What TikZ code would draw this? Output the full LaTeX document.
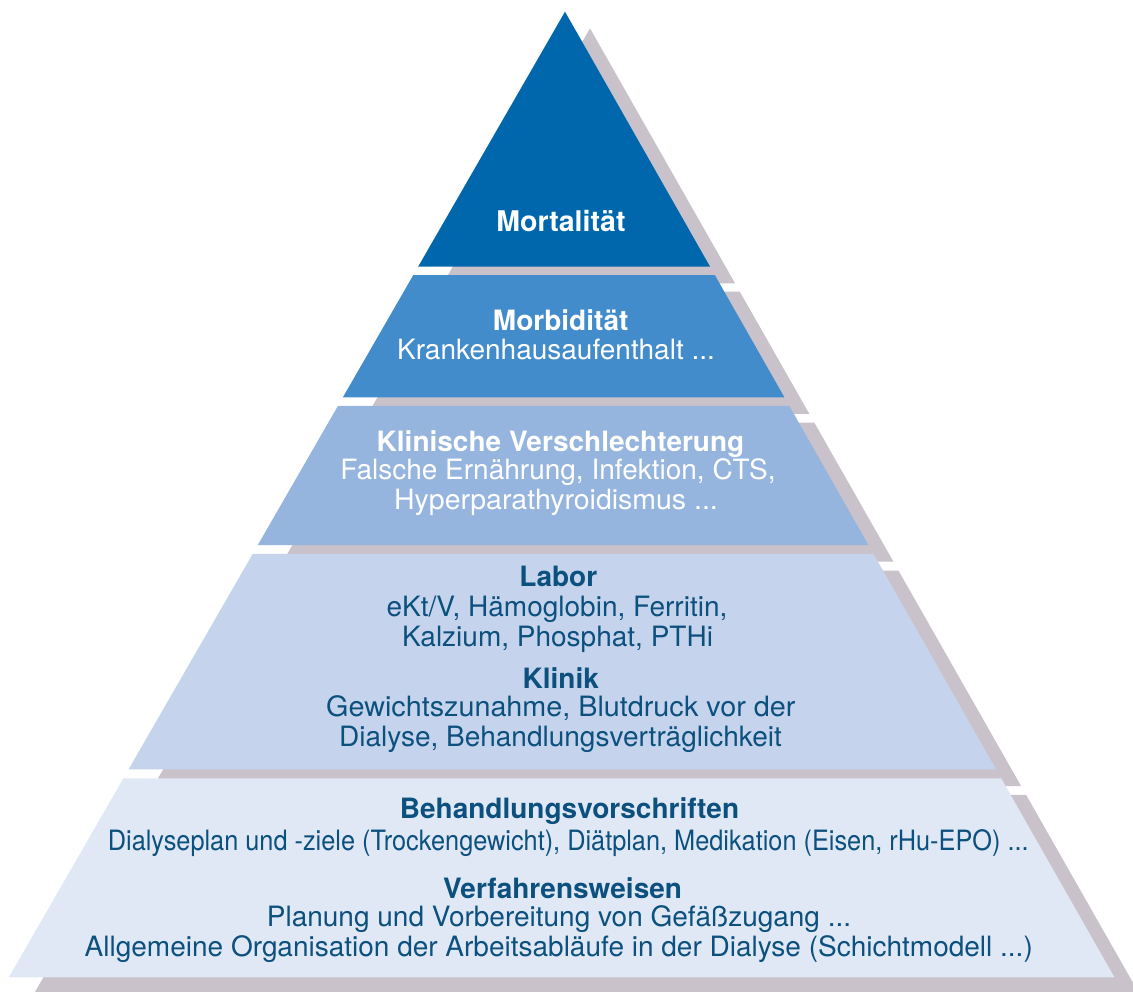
\documentclass[tikz,border=0pt]{standalone}
\usepackage{fontspec}
\setmainfont{TeX Gyre Heros}
\usetikzlibrary{calc}
\definecolor{cA}{RGB}{0,103,172}
\definecolor{cB}{RGB}{67,140,203}
\definecolor{cC}{RGB}{149,180,222}
\definecolor{cD}{RGB}{197,212,236}
\definecolor{cE}{RGB}{224,232,245}
\definecolor{shadecol}{RGB}{201,194,203}
\definecolor{txtblue}{RGB}{12,80,126}
\newcommand\pyrlayer[5]{% apex, left, right, t1, t2
  ($(#1)!#4!(#2)$) -- ($(#1)!#4!(#3)$) -- ($(#1)!#5!(#3)$) -- ($(#1)!#5!(#2)$) -- cycle}
\begin{document}
\begin{tikzpicture}[x=1pt,y=-1pt,
  lbl/.style={anchor=base,inner sep=0pt,font=\fontsize{28}{30}\selectfont},
  hd/.style={anchor=base,inner sep=0pt,font=\fontsize{28}{30}\selectfont\bfseries},
  wt/.style={text=white},
  bt/.style={text=txtblue}]
\useasboundingbox (0,0) rectangle (1133,992);
\clip (0,0) rectangle (1133,992);
\coordinate (A) at (565,11.7);
\coordinate (L) at (8.8,977.3);
\coordinate (R) at (1114.4,977.3);
\coordinate (SA) at (590,28.4);
\coordinate (SL) at (33.8,994);
\coordinate (SR) at (1139.4,994);
% shadows
\fill[shadecol] \pyrlayer{SA}{SL}{SR}{0}{0.2641};
\fill[shadecol] \pyrlayer{SA}{SL}{SR}{0.2727}{0.3993};
\fill[shadecol] \pyrlayer{SA}{SL}{SR}{0.4083}{0.5523};
\fill[shadecol] \pyrlayer{SA}{SL}{SR}{0.5616}{0.7846};
\fill[shadecol] \pyrlayer{SA}{SL}{SR}{0.7939}{1};
% layers
\fill[cA] \pyrlayer{A}{L}{R}{0}{0.2641};
\fill[cB] \pyrlayer{A}{L}{R}{0.2727}{0.3993};
\fill[cC] \pyrlayer{A}{L}{R}{0.4083}{0.5523};
\fill[cD] \pyrlayer{A}{L}{R}{0.5616}{0.7846};
\fill[cE] \pyrlayer{A}{L}{R}{0.7939}{1};
% texts
\node[hd,wt,font=\fontsize{28.5}{30}\selectfont\bfseries] (mort) at (561,231.7) {Mortalität};
\node[hd,wt] (morb) at (560.7,330.7) {Morbidität};
\node[lbl,wt] (kh) at (556,359.3) {Krankenhausaufenthalt ...};
\node[hd,wt] (kv) at (560.5,451) {Klinische Verschlechterung};
\node[lbl,wt] (fe) at (558,479.3) {Falsche Ernährung, Infektion, CTS,};
\node[lbl,wt] (hp) at (556,509.3) {\scalebox{1.017}[1]{Hyperparathyroidismus ...}};
\node[hd,bt] (labor) at (558.3,586.7) {Labor};
\node[lbl,bt] (ektv) at (557,616.7) {eKt/V, Hämoglobin, Ferritin,};
\node[lbl,bt] (kalz) at (557.5,646) {Kalzium, Phosphat, PTHi};
\node[hd,bt] (klinik) at (560.8,688.3) {Klinik};
\node[lbl,bt] (gew) at (560.8,716.7) {\scalebox{1.027}[1]{Gewichtszunahme, Blutdruck vor der}};
\node[lbl,bt] (dial) at (560.5,746) {Dialyse, Behandlungsverträglichkeit};
\node[hd,bt] (beh) at (569.5,818.3) {Behandlungsvorschriften};
\node[lbl,bt] (dplan) at (568.3,850) {\scalebox{0.904}[1]{Dialyseplan und -ziele (Trockengewicht), Diätplan, Medikation (Eisen, rHu-EPO) ...}};
\node[hd,bt] (verf) at (562.5,898.3) {Verfahrensweisen};
\node[lbl,bt] (plan) at (559,926.7) {Planung und Vorbereitung von Gefäßzugang ...};
\node[lbl,bt] (allg) at (558.8,956.7) {Allgemeine Organisation der Arbeitsabläufe in der Dialyse (Schichtmodell ...)};
\end{tikzpicture}
\end{document}
